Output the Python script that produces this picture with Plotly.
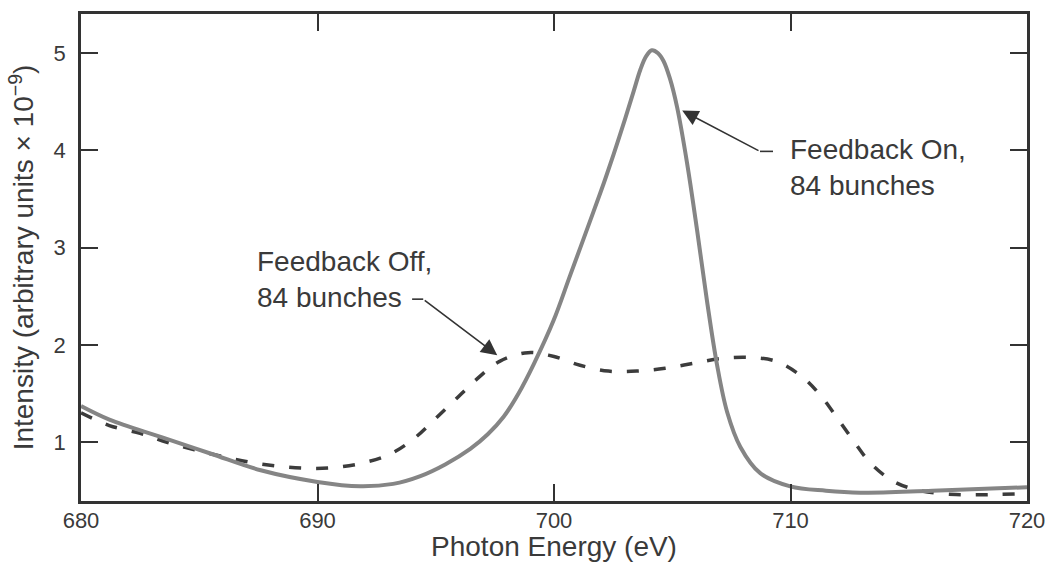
import plotly.graph_objects as go

# Feedback On, 84 bunches (solid)
on_energy = [680, 681.2, 683.4, 685.5, 687.6, 690.0, 691.8, 693.2, 694.35, 695.4, 696.46,
             697.2, 697.87, 698.5, 699.14, 699.98, 700.69, 701.67, 702.1, 702.52, 703.0,
             703.37, 703.65, 703.9, 704.14, 704.4, 704.63, 704.9, 705.2, 705.62, 706.05,
             706.47, 706.89, 707.32, 707.88, 708.72, 709.99, 711.5, 712.95, 716.0, 720.0]
on_intensity = [1.37, 1.23, 1.05, 0.88, 0.71, 0.59, 0.545, 0.57, 0.65, 0.77, 0.93,
                1.08, 1.26, 1.50, 1.80, 2.25, 2.72, 3.37, 3.66, 3.96, 4.32,
                4.61, 4.83, 4.97, 5.03, 5.0, 4.92, 4.74, 4.45, 3.88, 3.18,
                2.45, 1.80, 1.31, 0.95, 0.68, 0.545, 0.50, 0.48, 0.50, 0.535]

# Feedback Off, 84 bunches (dashed)
off_energy = [680, 681.2, 682.5, 683.6, 684.8, 686.0, 687.2, 688.4, 689.6, 690.8, 692.0,
              693.1, 694.1, 694.9, 695.8, 696.7, 697.7, 698.9, 700.0, 701.1, 702.3,
              703.5, 704.7, 705.9, 707.1, 708.3, 709.4, 710.5, 711.3, 712.0, 712.7,
              713.4, 714.4, 715.5, 717.0, 718.5, 720.0]
off_intensity = [1.30, 1.17, 1.09, 1.00, 0.92, 0.85, 0.79, 0.75, 0.73, 0.74, 0.79,
                 0.88, 1.04, 1.22, 1.43, 1.64, 1.83, 1.92, 1.88, 1.79, 1.73,
                 1.73, 1.76, 1.81, 1.86, 1.87, 1.83, 1.67, 1.47, 1.24, 1.00,
                 0.78, 0.59, 0.50, 0.46, 0.46, 0.47]

x_ticks = [680, 690, 700, 710, 720]
y_ticks = [1, 2, 3, 4, 5]

FONT = "Liberation Sans, Arial, Helvetica, sans-serif"
INK = "#3a3a3a"

fig = go.Figure()
fig.add_trace(go.Scatter(x=off_energy, y=off_intensity, mode="lines",
                         line=dict(color="#3c3c3c", width=3.5, dash="12px,15px",
                                   shape="spline", smoothing=1.0),
                         showlegend=False))
fig.add_trace(go.Scatter(x=on_energy, y=on_intensity, mode="lines",
                         line=dict(color="#858585", width=4, shape="spline", smoothing=1.0),
                         showlegend=False))

# annotations
fig.add_annotation(x=705.42, y=4.41, ax=708.71, ay=3.99, axref="x", ayref="y",
                   xref="x", yref="y", text="", showarrow=True, arrowhead=2,
                   arrowsize=2, arrowwidth=1.6, arrowcolor="#333333")
fig.add_shape(type="line", x0=708.71, y0=3.99, x1=709.26, y1=3.99, xref="x", yref="y",
              line=dict(color="#333333", width=1.6))
fig.add_annotation(x=709.9, y=3.82, xref="x", yref="y", text="Feedback On,<br>84 bunches",
                   showarrow=False, xanchor="left", yanchor="middle", align="left",
                   font=dict(family=FONT, size=28, color=INK))

fig.add_annotation(x=697.6, y=1.894, ax=694.47, ay=2.47, axref="x", ayref="y",
                   xref="x", yref="y", text="", showarrow=True, arrowhead=2,
                   arrowsize=2, arrowwidth=1.6, arrowcolor="#333333")
fig.add_shape(type="line", x0=694.0, y0=2.47, x1=694.47, y1=2.47, xref="x", yref="y",
              line=dict(color="#333333", width=1.6))
fig.add_annotation(x=687.37, y=2.673, xref="x", yref="y", text="Feedback Off,<br>84 bunches",
                   showarrow=False, xanchor="left", yanchor="middle", align="left",
                   font=dict(family=FONT, size=28, color=INK))

axis_common = dict(showgrid=False, zeroline=False, showline=True, linecolor="#333333",
                   linewidth=2.5, mirror="ticks", ticks="inside", ticklen=17, tickwidth=1.5,
                   tickcolor="#333333", tickfont=dict(family=FONT, size=22, color=INK),
                   automargin=False)

fig.update_xaxes(range=[680, 720], tickvals=x_ticks, ticktext=[str(v) for v in x_ticks],
                 ticklabelstandoff=-2,
                 title=dict(text="Photon Energy (eV)", font=dict(family=FONT, size=28, color=INK),
                            standoff=6),
                 **axis_common)
fig.update_yaxes(range=[0.394, 5.403], tickvals=y_ticks, ticktext=[str(v) for v in y_ticks],
                 ticklabelstandoff=8,
                 title=dict(text="Intensity (arbitrary units × 10<sup>−9</sup>)",
                            font=dict(family=FONT, size=28, color=INK), standoff=12),
                 **axis_common)

fig.update_layout(width=1050, height=562, margin=dict(l=81, r=23, t=14, b=61),
                  plot_bgcolor="white", paper_bgcolor="white", font=dict(family=FONT, color=INK))

fig.write_html("out.html")
